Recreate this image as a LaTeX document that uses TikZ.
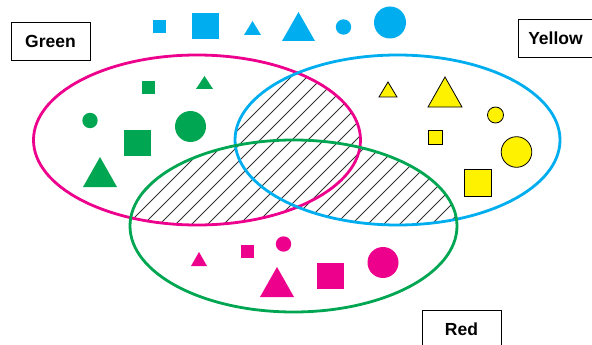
\documentclass[tikz,border=0pt]{standalone}
\usepackage{fontspec}
\setmainfont{Liberation Sans}
\definecolor{pmag}{HTML}{EC008C}
\definecolor{pcyan}{HTML}{00AEEF}
\definecolor{pgreen}{HTML}{00A651}
\definecolor{pyel}{HTML}{FFF200}
\tikzset{
  ring/.style={line width=2.8pt},
  hatchline/.style={line width=0.8pt, draw=black!80},
  labelbox/.style={draw=black, line width=0.8pt, font=\bfseries\fontsize{17.5}{20}\selectfont, inner sep=0pt},
  gshape/.style={fill=pgreen, draw=none},
  cshape/.style={fill=pcyan, draw=none},
  mshape/.style={fill=pmag, draw=none},
  yshape/.style={fill=pyel, draw=black, line width=0.8pt},
}
\begin{document}
\begin{tikzpicture}[x=1pt,y=-1pt]
\useasboundingbox (0,0) rectangle (592,345);
\def\ellM{(197,140) ellipse [x radius=163.5, y radius=85]}
\def\ellC{(397.5,140) ellipse [x radius=162.5, y radius=85]}
\def\ellG{(293.5,226) ellipse [x radius=163.5, y radius=86]}
\def\hatchlines{\foreach \c in {176,192,...,800} \draw[hatchline] ({\c-400},400) -- (\c,0);}
% hatching: region inside at least two ellipses, each part once
\begin{scope}
  \clip \ellM; \clip \ellC;
  \hatchlines
\end{scope}
\begin{scope}[even odd rule]
  \clip \ellM; \clip \ellG;
  \clip (-10,-10) rectangle (610,360) \ellC;
  \hatchlines
\end{scope}
\begin{scope}[even odd rule]
  \clip \ellC; \clip \ellG;
  \clip (-10,-10) rectangle (610,360) \ellM;
  \hatchlines
\end{scope}
% ellipses
\draw[ring, pmag] \ellM;
\draw[ring, pcyan] \ellC;
\draw[ring, pgreen] \ellG;
% labels
\node[labelbox, minimum width=79pt, minimum height=38pt] (lg) at (50.5,41) {Green};
\node[labelbox, minimum width=75pt, minimum height=38pt] (ly) at (555.5,38) {Yellow};
\node[labelbox, minimum width=79pt, minimum height=38pt] (lr) at (461.5,329) {Red};
% cyan top row
\fill[cshape] (153,20) rectangle (166,33);
\fill[cshape] (192,13) rectangle (219,39);
\fill[cshape] (244,35) -- (261,35) -- (252.5,21) -- cycle;
\fill[cshape] (282,41) -- (315,41) -- (298.5,12) -- cycle;
\fill[cshape] (343.5,27) circle (7.7);
\fill[cshape] (390,22.5) circle (16);
% green shapes
\fill[gshape] (142,81) rectangle (155,94);
\fill[gshape] (196,89) -- (213,89) -- (204.5,76) -- cycle;
\fill[gshape] (90,120.5) circle (7.7);
\fill[gshape] (124,130) rectangle (151,156);
\fill[gshape] (190.5,126.5) circle (15.5);
\fill[gshape] (83,187) -- (117,187) -- (100,157) -- cycle;
% yellow shapes
\filldraw[yshape] (379,97) -- (397,97) -- (388,82) -- cycle;
\filldraw[yshape] (428,107) -- (462,107) -- (445,77) -- cycle;
\filldraw[yshape] (495.5,115) circle (8);
\filldraw[yshape] (428,130) rectangle (442,144);
\filldraw[yshape] (516.5,152) circle (15.3);
\filldraw[yshape] (464,169) rectangle (491,196);
% magenta shapes
\fill[mshape] (191,266) -- (207,266) -- (199,252) -- cycle;
\fill[mshape] (241,245) rectangle (254,258);
\fill[mshape] (283.5,244) circle (7.7);
\fill[mshape] (260,297) -- (294,297) -- (277,267) -- cycle;
\fill[mshape] (317,263) rectangle (344,289);
\fill[mshape] (383,262.5) circle (15.5);
\end{tikzpicture}
\end{document}
